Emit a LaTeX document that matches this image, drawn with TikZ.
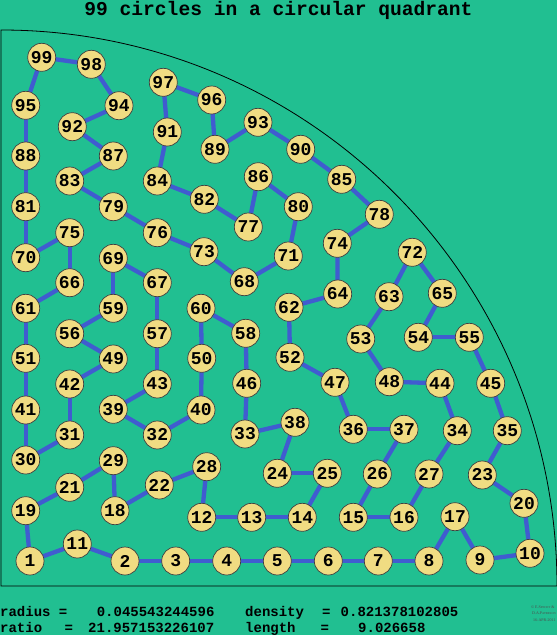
\documentclass[tikz,border=0pt]{standalone}
\usepackage{fontspec}
\setmonofont{Liberation Mono}
\newfontfamily\cpfont{Liberation Serif}
\definecolor{bgc}{RGB}{33,191,145}
\definecolor{disc}{RGB}{240,220,130}
\definecolor{edgec}{RGB}{64,92,208}
\pgfdeclarelayer{bgl}
\pgfdeclarelayer{edgel}
\pgfsetlayers{bgl,edgel,main}
\tikzset{
  disc/.style={circle, draw=black!75, line width=0.7pt, fill=disc, minimum size=28pt, inner sep=0pt,
    font=\fontsize{18}{18}\selectfont\ttfamily\bfseries},
  link/.style={draw=edgec, line width=4.3pt},
  info/.style={inner sep=0pt, anchor=base west, font=\fontsize{14}{14}\selectfont\ttfamily\bfseries},
  cp/.style={inner sep=0pt, anchor=base west, text=black!70, font=\fontsize{4}{4}\selectfont\cpfont}
}
\begin{document}
\begin{tikzpicture}[x=1pt,y=-1pt]
\useasboundingbox (0,0) rectangle (557,635);
\begin{pgfonlayer}{bgl}
\fill[bgc] (0,0) rectangle (557,635);
\draw[black, line width=0.8pt] (1,586) -- (1,30) arc[start angle=-90, end angle=0, radius=556] -- cycle;
\end{pgfonlayer}
\node[inner sep=0pt, anchor=base, font=\fontsize{19.6}{20}\selectfont\ttfamily\bfseries] (title) at (278.5,15) {99 circles in a circular quadrant};
\foreach \n/\x/\y in {
1/30/561, 2/125/561, 3/175.7/561, 4/226.7/561, 5/277.3/561, 6/328.3/561, 7/378.3/561, 8/429/561, 9/480/560, 10/530/553.3,
11/77.3/544, 12/201.7/517.3, 13/251.7/517.3, 14/302.3/517.3, 15/353.3/517.3, 16/404/517.3, 17/455/516.7, 18/115/510.7, 19/25.7/510.7, 20/524/503.3,
21/69.7/487.3, 22/159.3/485, 23/482.3/475, 24/277.3/473.3, 25/327.3/473.3, 26/377.3/474, 27/429/474, 28/206.7/466.7, 29/113.3/460.7, 30/25.7/460,
31/69.7/435, 32/157.3/435, 33/245/434, 34/457.3/430.7, 35/507.3/430.7, 36/353.3/429.3, 37/404/429.3, 38/295/422.3, 39/113.3/409.3, 40/201/410,
41/25.7/410, 42/69.7/384, 43/157.3/384, 44/440/383.3, 45/490.7/383.3, 46/246.7/383.3, 47/335/382.3, 48/389.3/381.7, 49/113.3/359, 50/201.7/358.3,
51/25.7/358.3, 52/290/357.3, 53/360.7/339, 54/418.3/337.3, 55/469.3/337.3, 56/69.7/333.7, 57/157.3/333.7, 58/245.7/333.3, 59/113.3/308.3, 60/201/308.3,
61/25.7/308.3, 62/289/307.3, 63/389/296.7, 64/337.7/294, 65/442.3/293.3, 66/69.7/282.7, 67/157.3/282.7, 68/244.3/281.7, 69/113.3/258.3, 70/25.7/257.7,
71/288.3/256, 72/412.3/252.3, 73/204/251.7, 74/337.3/243.3, 75/69.7/232.7, 76/157.3/232.7, 77/248.3/227, 78/379.3/214.3, 79/113.3/206.7, 80/298.3/206.7,
81/25.7/206.7, 82/204.3/199.3, 83/69.7/181, 84/157.3/181, 85/341.7/179.3, 86/258.3/176.7, 87/113.3/156, 88/25.7/156, 89/215/149.3, 90/300.7/149.3,
91/167.3/132, 92/72.3/126.7, 93/258/122.3, 94/119/105.7, 95/25.7/105.3, 96/211.7/100, 97/163.3/82.3, 98/91.3/64.3, 99/41.7/57.3}
  \node[disc] (c\n) at (\x,\y) {\n};
\begin{pgfonlayer}{edgel}
\foreach \a/\b in {99/98, 98/94, 94/92, 92/87, 87/83, 83/79, 79/76, 76/73, 73/68, 68/71, 71/80, 80/86, 86/77, 77/82, 82/84, 84/91, 91/97, 97/96, 96/89, 89/93, 93/90, 90/85, 85/78, 78/74, 74/64, 64/62, 62/52, 52/47, 47/36, 36/37, 37/26, 26/15, 15/16, 16/27, 27/34, 34/44, 44/48, 48/53, 53/63, 63/72, 72/65, 65/54, 54/55, 55/45, 45/35, 35/23, 23/20, 20/10, 10/9, 9/17, 17/8, 8/7, 7/6, 6/5, 5/4, 4/3, 3/2, 2/11, 11/1, 1/19, 19/21, 21/29, 29/18, 18/22, 22/28, 28/12, 12/13, 13/14, 14/25, 25/24, 24/38, 38/33, 33/46, 46/58, 58/60, 60/50, 50/40, 40/32, 32/39, 39/43, 43/57, 57/67, 67/69, 69/59, 59/56, 56/49, 49/42, 42/31, 31/30, 30/41, 41/51, 51/61, 61/66, 66/75, 75/70, 70/81, 81/88, 88/95, 95/99}
  \draw[link] (c\a.center) -- (c\b.center);
\end{pgfonlayer}
\node[info] (r1) at (0,616.5) {radius =};
\node[info] (r2) at (96.6,616.5) {0.045543244596};
\node[info] (r3) at (245,616.5) {density};
\node[info] (r4) at (322,616.5) {=};
\node[info] (r5) at (340.5,616.5) {0.821378102805};
\node[info] (s1) at (0,632) {ratio};
\node[info] (s2) at (64.5,632) {=};
\node[info] (s3) at (88,632) {21.957153226107};
\node[info] (s4) at (245,632) {length};
\node[info] (s5) at (320.5,632) {=};
\node[info] (s6) at (358,632) {9.026658};
\node[cp] (k1) at (531,608.3) {\textcopyright\ E.S{\fontsize{3}{3}\selectfont PECHT} \&};
\node[cp] (k2) at (532,614.7) {D.A.P{\fontsize{3}{3}\selectfont ATERSON}};
\node[cp] (k3) at (533,621.7) {16-APR-2011};
\end{tikzpicture}
\end{document}
